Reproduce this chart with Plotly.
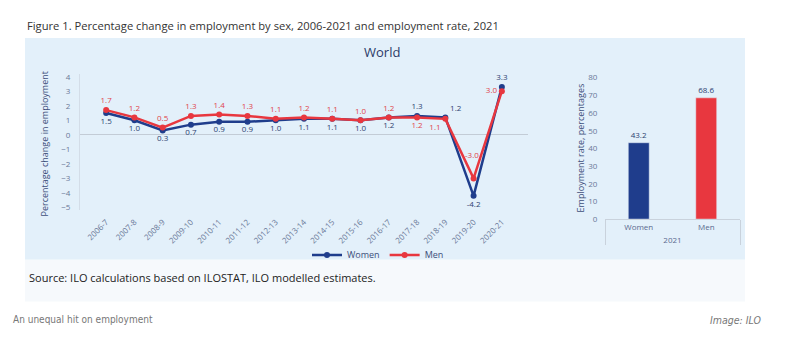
import plotly.graph_objects as go

periods = ["2006-7", "2007-8", "2008-9", "2009-10", "2010-11", "2011-12", "2012-13",
           "2013-14", "2014-15", "2015-16", "2016-17", "2017-18", "2018-19", "2019-20", "2020-21"]
women_change = [1.5, 1.0, 0.3, 0.7, 0.9, 0.9, 1.0, 1.1, 1.1, 1.0, 1.2, 1.3, 1.2, -4.2, 3.3]
men_change = [1.7, 1.2, 0.5, 1.3, 1.4, 1.3, 1.1, 1.2, 1.1, 1.0, 1.2, 1.2, 1.1, -3.0, 3.0]
women_pos = ["bottom center"] * 11 + ["top center", "top right", "bottom center", "top center"]
men_pos = ["top center"] * 11 + ["bottom center", "bottom left", "top center", "middle left"]

rate_sex = ["Women", "Men"]
rate_year = ["2021", "2021"]
rate_values = [43.2, 68.6]

BLUE = "#1f3d8c"
RED = "#e8373f"
AXC = "#5b6a8f"

men_text = [f"{v:.1f}" for v in men_change]
men_text[13] = ""  # drawn as a separate annotation above the V

fig = go.Figure()

fig.add_trace(go.Scatter(
    x=periods, y=women_change, name="Women", mode="lines+markers+text",
    line=dict(color=BLUE, width=2.5), marker=dict(size=6, color=BLUE),
    text=[f"{v:.1f}" for v in women_change], textposition=women_pos,
    textfont=dict(size=8, color="#2d3f70", family="Open Sans"),
    xaxis="x", yaxis="y", cliponaxis=False))
fig.add_trace(go.Scatter(
    x=periods, y=men_change, name="Men", mode="lines+markers+text",
    line=dict(color=RED, width=2.5), marker=dict(size=6, color=RED),
    text=men_text, textposition=men_pos,
    textfont=dict(size=8, color="#e0444b", family="Open Sans"),
    xaxis="x", yaxis="y", cliponaxis=False))

fig.add_trace(go.Bar(
    x=[rate_year, rate_sex], y=rate_values, marker=dict(color=[BLUE, RED]),
    text=[f"{v:.1f}" for v in rate_values], textposition="outside",
    textfont=dict(size=8, color="#2d3f70", family="Open Sans"),
    xaxis="x2", yaxis="y2", showlegend=False, cliponaxis=False))

W, H = 805, 350
def px(x): return x / W
def py(y): return 1 - y / H

fig.update_layout(
    width=W, height=H, margin=dict(l=0, r=0, t=0, b=0),
    paper_bgcolor="white", plot_bgcolor="rgba(0,0,0,0)",
    font=dict(family="Open Sans", color=AXC),
    bargap=0.69,
    xaxis=dict(domain=[px(80), px(528)], anchor="y", type="category", tickangle=-45,
               tickfont=dict(size=8, color="#6a7898"),
               showgrid=False, zeroline=False, showline=False, ticks="outside", ticklen=3,
               tickcolor="rgba(0,0,0,0)", fixedrange=True),
    yaxis=dict(domain=[py(211), py(70)], anchor="x", range=[-5.2, 4.2], tickvals=list(range(-5, 5)),
               tickfont=dict(size=8, color="#6a7898"), showgrid=False,
               zeroline=True, zerolinecolor="#c3ccd6", zerolinewidth=1,
               showline=True, linecolor="#d3dde8", ticks="outside", ticklen=7,
               tickcolor="rgba(0,0,0,0)"),
    xaxis2=dict(domain=[px(605), px(740)], anchor="y2", type="multicategory",
                tickfont=dict(size=8, color="#5b6a8f"),
                showgrid=False, showline=True, linecolor="#c9d2dc", ticks="outside", ticklen=3,
                tickcolor="rgba(0,0,0,0)",
                showdividers=True, dividercolor="#c9d2dc"),
    yaxis2=dict(domain=[py(220), py(74)], anchor="x2", range=[0, 80], tickvals=list(range(0, 81, 10)),
                tickfont=dict(size=8, color="#6a7898"), showgrid=False, zeroline=False,
                showline=False, ticks="outside", ticklen=5, tickcolor="rgba(0,0,0,0)"),
    legend=dict(orientation="h", x=px(378), xanchor="center", y=py(257), yanchor="middle",
                font=dict(size=9, color="#3d4f7a"), bgcolor="rgba(0,0,0,0)",
                itemwidth=30, tracegroupgap=0),
    shapes=[
        dict(type="rect", xref="paper", yref="paper", x0=px(25), x1=px(745), y0=py(262), y1=py(33),
             fillcolor="#e3f0fa", line=dict(width=0), layer="below"),
        dict(type="rect", xref="paper", yref="paper", x0=px(25), x1=px(745), y0=py(305), y1=py(262),
             fillcolor="#f6f9fc", line=dict(width=0), layer="below"),
    ],
    annotations=[
        dict(text=f"{men_change[13]:.1f}", xref="x", yref="y", x=periods[13], y=men_change[13],
             yshift=24, xshift=-2, showarrow=False,
             font=dict(size=8, color="#e0444b", family="Open Sans")),
        dict(text="Figure 1. Percentage change in employment by sex, 2006-2021 and employment rate, 2021",
             xref="paper", yref="paper", x=px(25), y=py(20), xanchor="left", yanchor="middle",
             showarrow=False, font=dict(size=11.2, color="#333333", family="Open Sans")),
        dict(text="World", xref="paper", yref="paper", x=px(382), y=py(47), xanchor="center",
             yanchor="middle", showarrow=False, font=dict(size=13, color="#2b3a67", family="Open Sans")),
        dict(text="Percentage change in employment", xref="paper", yref="paper", x=px(45), y=py(143),
             xanchor="center", yanchor="middle", textangle=-90, showarrow=False,
             font=dict(size=9, color="#3d4f7a", family="Open Sans")),
        dict(text="Employment rate, percentages", xref="paper", yref="paper", x=px(580), y=py(147),
             xanchor="center", yanchor="middle", textangle=-90, showarrow=False,
             font=dict(size=9, color="#3d4f7a", family="Open Sans")),
        dict(text="Source: ILO calculations based on ILOSTAT, ILO modelled estimates.",
             xref="paper", yref="paper", x=px(27), y=py(280), xanchor="left", yanchor="middle",
             showarrow=False, font=dict(size=11, color="#222222", family="Open Sans")),
        dict(text="An unequal hit on employment", xref="paper", yref="paper", x=px(11), y=py(324),
             xanchor="left", yanchor="middle", showarrow=False,
             font=dict(size=10, color="#777777", family="DejaVu Sans Condensed, Roboto")),
        dict(text="<i>Image: ILO</i>", xref="paper", yref="paper", x=px(763), y=py(324),
             xanchor="right", yanchor="middle", showarrow=False,
             font=dict(size=10.5, color="#777777", family="DejaVu Sans Condensed, Roboto")),
    ],
)

fig.write_html("out.html")
